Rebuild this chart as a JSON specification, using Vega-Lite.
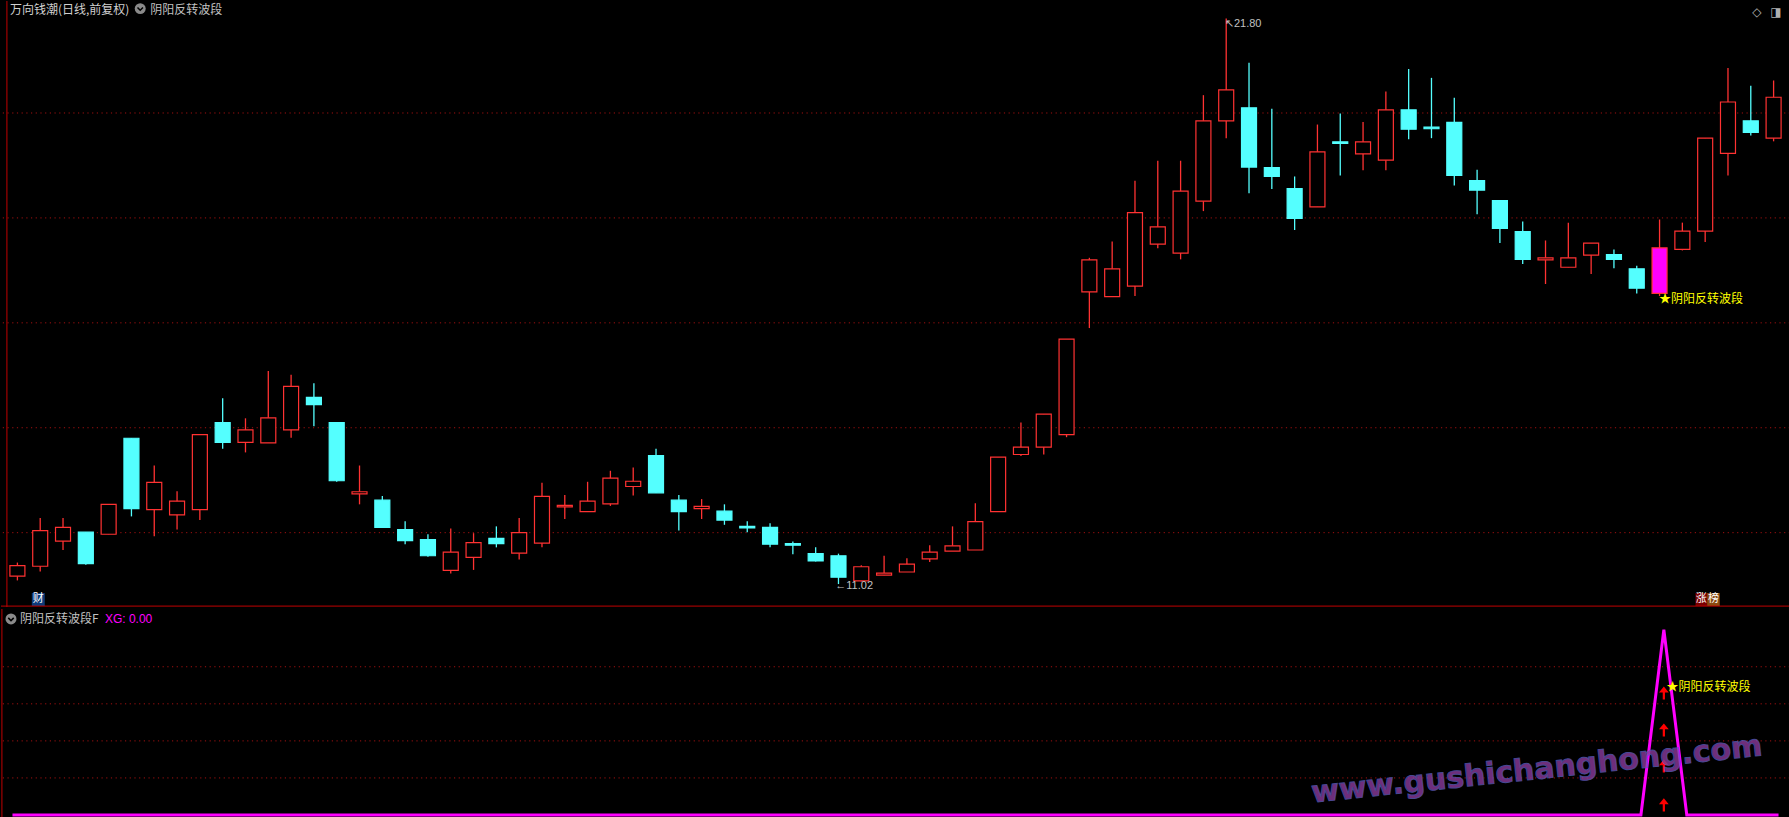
{
  "$schema": "https://vega.github.io/schema/vega-lite/v6.json",
  "background": "#000000",
  "padding": 0,
  "spacing": 0,
  "autosize": {"type": "pad"},
  "config": {"view": {"stroke": null}, "axis": {"disable": true}, "font": "Noto Sans CJK SC"},
  "resolve": {"scale": {"x": "independent", "y": "independent"}},
  "datasets": {
    "k": [
      {"i":0,"o":11.17,"h":11.43,"l":11.09,"c":11.37,"xg":0},
      {"i":1,"o":11.36,"h":12.28,"l":11.26,"c":12.04,"xg":0},
      {"i":2,"o":11.84,"h":12.28,"l":11.67,"c":12.10,"xg":0},
      {"i":3,"o":12.01,"h":12.01,"l":11.39,"c":11.41,"xg":0},
      {"i":4,"o":11.97,"h":12.54,"l":11.97,"c":12.54,"xg":0},
      {"i":5,"o":13.80,"h":13.80,"l":12.31,"c":12.46,"xg":0},
      {"i":6,"o":12.44,"h":13.28,"l":11.93,"c":12.96,"xg":0},
      {"i":7,"o":12.34,"h":12.79,"l":12.06,"c":12.60,"xg":0},
      {"i":8,"o":12.44,"h":13.87,"l":12.24,"c":13.87,"xg":0},
      {"i":9,"o":14.10,"h":14.56,"l":13.60,"c":13.72,"xg":0},
      {"i":10,"o":13.72,"h":14.18,"l":13.53,"c":13.96,"xg":0},
      {"i":11,"o":13.71,"h":15.08,"l":13.71,"c":14.19,"xg":0},
      {"i":12,"o":13.96,"h":15.01,"l":13.81,"c":14.79,"xg":0},
      {"i":13,"o":14.58,"h":14.85,"l":14.03,"c":14.44,"xg":0},
      {"i":14,"o":14.10,"h":14.10,"l":12.97,"c":12.99,"xg":0},
      {"i":15,"o":12.74,"h":13.28,"l":12.54,"c":12.78,"xg":0},
      {"i":16,"o":12.62,"h":12.70,"l":12.09,"c":12.10,"xg":0},
      {"i":17,"o":12.06,"h":12.22,"l":11.78,"c":11.85,"xg":0},
      {"i":18,"o":11.87,"h":11.97,"l":11.54,"c":11.56,"xg":0},
      {"i":19,"o":11.28,"h":12.08,"l":11.22,"c":11.63,"xg":0},
      {"i":20,"o":11.53,"h":11.99,"l":11.29,"c":11.81,"xg":0},
      {"i":21,"o":11.89,"h":12.12,"l":11.72,"c":11.79,"xg":0},
      {"i":22,"o":11.61,"h":12.28,"l":11.49,"c":12.00,"xg":0},
      {"i":23,"o":11.80,"h":12.95,"l":11.72,"c":12.69,"xg":0},
      {"i":24,"o":12.49,"h":12.72,"l":12.26,"c":12.52,"xg":0},
      {"i":25,"o":12.40,"h":12.97,"l":12.40,"c":12.60,"xg":0},
      {"i":26,"o":12.55,"h":13.18,"l":12.51,"c":13.04,"xg":0},
      {"i":27,"o":12.88,"h":13.24,"l":12.71,"c":12.98,"xg":0},
      {"i":28,"o":13.47,"h":13.60,"l":12.76,"c":12.76,"xg":0},
      {"i":29,"o":12.62,"h":12.72,"l":12.04,"c":12.40,"xg":0},
      {"i":30,"o":12.46,"h":12.64,"l":12.26,"c":12.50,"xg":0},
      {"i":31,"o":12.41,"h":12.54,"l":12.15,"c":12.24,"xg":0},
      {"i":32,"o":12.12,"h":12.22,"l":12.01,"c":12.09,"xg":0},
      {"i":33,"o":12.10,"h":12.18,"l":11.72,"c":11.78,"xg":0},
      {"i":34,"o":11.79,"h":11.83,"l":11.59,"c":11.76,"xg":0},
      {"i":35,"o":11.60,"h":11.72,"l":11.45,"c":11.46,"xg":0},
      {"i":36,"o":11.56,"h":11.60,"l":11.02,"c":11.15,"xg":0},
      {"i":37,"o":11.08,"h":11.38,"l":11.07,"c":11.35,"xg":0},
      {"i":38,"o":11.19,"h":11.56,"l":11.19,"c":11.23,"xg":0},
      {"i":39,"o":11.25,"h":11.51,"l":11.25,"c":11.40,"xg":0},
      {"i":40,"o":11.50,"h":11.76,"l":11.44,"c":11.63,"xg":0},
      {"i":41,"o":11.65,"h":12.12,"l":11.65,"c":11.75,"xg":0},
      {"i":42,"o":11.67,"h":12.56,"l":11.67,"c":12.21,"xg":0},
      {"i":43,"o":12.40,"h":13.44,"l":12.40,"c":13.44,"xg":0},
      {"i":44,"o":13.49,"h":14.10,"l":13.46,"c":13.63,"xg":0},
      {"i":45,"o":13.63,"h":14.26,"l":13.49,"c":14.26,"xg":0},
      {"i":46,"o":13.87,"h":15.69,"l":13.82,"c":15.69,"xg":0},
      {"i":47,"o":16.59,"h":17.24,"l":15.90,"c":17.20,"xg":0},
      {"i":48,"o":16.50,"h":17.55,"l":16.50,"c":17.03,"xg":0},
      {"i":49,"o":16.70,"h":18.71,"l":16.51,"c":18.10,"xg":0},
      {"i":50,"o":17.50,"h":19.09,"l":17.42,"c":17.83,"xg":0},
      {"i":51,"o":17.33,"h":19.09,"l":17.21,"c":18.51,"xg":0},
      {"i":52,"o":18.32,"h":20.34,"l":18.13,"c":19.85,"xg":0},
      {"i":53,"o":19.85,"h":21.80,"l":19.52,"c":20.44,"xg":0},
      {"i":54,"o":20.10,"h":20.96,"l":18.47,"c":18.97,"xg":0},
      {"i":55,"o":18.96,"h":20.08,"l":18.55,"c":18.79,"xg":0},
      {"i":56,"o":18.56,"h":18.79,"l":17.77,"c":17.99,"xg":0},
      {"i":57,"o":18.21,"h":19.78,"l":18.21,"c":19.26,"xg":0},
      {"i":58,"o":19.45,"h":19.99,"l":18.81,"c":19.42,"xg":0},
      {"i":59,"o":19.22,"h":19.83,"l":18.91,"c":19.45,"xg":0},
      {"i":60,"o":19.10,"h":20.41,"l":18.91,"c":20.06,"xg":0},
      {"i":61,"o":20.06,"h":20.84,"l":19.50,"c":19.69,"xg":0},
      {"i":62,"o":19.73,"h":20.67,"l":19.52,"c":19.70,"xg":0},
      {"i":63,"o":19.82,"h":20.29,"l":18.62,"c":18.81,"xg":0},
      {"i":64,"o":18.71,"h":18.92,"l":18.07,"c":18.53,"xg":0},
      {"i":65,"o":18.33,"h":18.33,"l":17.52,"c":17.80,"xg":0},
      {"i":66,"o":17.74,"h":17.93,"l":17.12,"c":17.21,"xg":0},
      {"i":67,"o":17.20,"h":17.57,"l":16.74,"c":17.24,"xg":0},
      {"i":68,"o":17.06,"h":17.91,"l":17.06,"c":17.24,"xg":0},
      {"i":69,"o":17.29,"h":17.52,"l":16.93,"c":17.52,"xg":0},
      {"i":70,"o":17.30,"h":17.40,"l":17.04,"c":17.21,"xg":0},
      {"i":71,"o":17.03,"h":17.09,"l":16.56,"c":16.66,"xg":0},
      {"i":72,"o":16.56,"h":17.97,"l":16.51,"c":17.43,"xg":1},
      {"i":73,"o":17.40,"h":17.91,"l":17.38,"c":17.75,"xg":0},
      {"i":74,"o":17.75,"h":19.52,"l":17.54,"c":19.52,"xg":0},
      {"i":75,"o":19.23,"h":20.86,"l":18.81,"c":20.21,"xg":0},
      {"i":76,"o":19.85,"h":20.52,"l":19.57,"c":19.63,"xg":0},
      {"i":77,"o":19.52,"h":20.62,"l":19.46,"c":20.30,"xg":0}
    ]
  },
  "vconcat": [
    {
      "width": 1789,
      "height": 606,
      "layer": [
        {
          "data": {"values": [{"g":12},{"g":14},{"g":16},{"g":18},{"g":20}]},
          "mark": {"type": "rule", "color": "#a01010", "strokeWidth": 1, "strokeDash": [1.2, 3.5]},
          "encoding": {
            "y": {"field": "g", "type": "quantitative", "scale": {"domain": [10.583, 22.135], "nice": false, "zero": false}}
          }
        },
        {
          "data": {"name": "k"},
          "mark": {"type": "rule", "strokeWidth": 1.3},
          "encoding": {
            "x": {"field": "i", "type": "quantitative", "scale": {"domain": [-0.5, 77.5], "nice": false, "zero": false}},
            "y": {"field": "l", "type": "quantitative"},
            "y2": {"field": "h"},
            "color": {"condition": {"test": "datum.c >= datum.o", "value": "#ff3232"}, "value": "#54ffff"}
          }
        },
        {
          "data": {"name": "k"},
          "mark": {"type": "bar", "width": 15, "strokeWidth": 1.2},
          "encoding": {
            "x": {"field": "i", "type": "quantitative"},
            "y": {"field": "o", "type": "quantitative"},
            "y2": {"field": "c"},
            "fill": {"condition": [{"test": "datum.xg == 1", "value": "#ff00ff"}, {"test": "datum.c >= datum.o", "value": "#000000"}], "value": "#54ffff"},
            "stroke": {"condition": {"test": "datum.c >= datum.o", "value": "#ff3232"}, "value": "#54ffff"}
          }
        },
        {
          "data": {"values": [{"t": "万向钱潮(日线,前复权)"}]},
          "mark": {"type": "text", "align": "left", "baseline": "middle", "fontSize": 12, "color": "#d0d0d0"},
          "encoding": {"x": {"datum": -0.326}, "y": {"datum": 21.97}, "text": {"field": "t"}}
        },
        {
          "data": {"values": [{}]},
          "mark": {"type": "point", "shape": "circle", "filled": true, "size": 120, "color": "#8a8a8a", "opacity": 1},
          "encoding": {"x": {"datum": 5.385}, "y": {"datum": 21.99}}
        },
        {
          "data": {"values": [{}]},
          "mark": {"type": "point", "shape": "M-0.5,-0.2L0,0.3L0.5,-0.2", "filled": false, "size": 120, "stroke": "#000000", "strokeWidth": 1.5, "opacity": 1},
          "encoding": {"x": {"datum": 5.385}, "y": {"datum": 21.99}}
        },
        {
          "data": {"values": [{"t": "阴阳反转波段"}]},
          "mark": {"type": "text", "align": "left", "baseline": "middle", "fontSize": 12, "color": "#c0c0c0"},
          "encoding": {"x": {"datum": 5.82}, "y": {"datum": 21.97}, "text": {"field": "t"}}
        },
        {
          "data": {"values": [{"t": "↖21.80"}]},
          "mark": {"type": "text", "align": "left", "baseline": "middle", "fontSize": 11, "font": "Liberation Sans", "color": "#c0c0c0"},
          "encoding": {"x": {"datum": 52.944}, "y": {"datum": 21.7}, "text": {"field": "t"}}
        },
        {
          "data": {"values": [{"t": "←11.02"}]},
          "mark": {"type": "text", "align": "left", "baseline": "middle", "fontSize": 11, "font": "Liberation Sans", "color": "#c0c0c0"},
          "encoding": {"x": {"datum": 35.86}, "y": {"datum": 10.984}, "text": {"field": "t"}}
        },
        {
          "data": {"values": [{"t": "★阴阳反转波段"}]},
          "mark": {"type": "text", "align": "left", "baseline": "middle", "fontSize": 12, "color": "#ffff00"},
          "encoding": {"x": {"datum": 71.98}, "y": {"datum": 16.455}, "text": {"field": "t"}}
        },
        {
          "data": {"values": [{}]},
          "mark": {"type": "rect", "color": "#0d3b7a"},
          "encoding": {"x": {"datum": 0.633}, "x2": {"datum": 1.2}, "y": {"datum": 10.85}, "y2": {"datum": 10.602}}
        },
        {
          "data": {"values": [{}]},
          "mark": {"type": "rect", "color": "#7a0000"},
          "encoding": {"x": {"datum": 73.576}, "x2": {"datum": 74.086}, "y": {"datum": 10.85}, "y2": {"datum": 10.602}}
        },
        {
          "data": {"values": [{}]},
          "mark": {"type": "rect", "color": "#8a4a10"},
          "encoding": {"x": {"datum": 74.086}, "x2": {"datum": 74.64}, "y": {"datum": 10.85}, "y2": {"datum": 10.602}}
        },
        {
          "data": {"values": [{"t": "财"}]},
          "mark": {"type": "text", "align": "center", "baseline": "middle", "fontSize": 11, "color": "#ffffff"},
          "encoding": {"x": {"datum": 0.917}, "y": {"datum": 10.726}, "text": {"field": "t"}}
        },
        {
          "data": {"values": [{"t": "涨"}]},
          "mark": {"type": "text", "align": "center", "baseline": "middle", "fontSize": 11, "color": "#ffffff"},
          "encoding": {"x": {"datum": 73.83}, "y": {"datum": 10.726}, "text": {"field": "t"}}
        },
        {
          "data": {"values": [{"t": "榜"}]},
          "mark": {"type": "text", "align": "center", "baseline": "middle", "fontSize": 11, "color": "#ffffff"},
          "encoding": {"x": {"datum": 74.36}, "y": {"datum": 10.726}, "text": {"field": "t"}}
        },
        {
          "data": {"values": [{"t": "◇"}]},
          "mark": {"type": "text", "align": "center", "baseline": "middle", "fontSize": 12, "font": "DejaVu Sans", "color": "#b0b0b0"},
          "encoding": {"x": {"datum": 76.27}, "y": {"datum": 21.93}, "text": {"field": "t"}}
        },
        {
          "data": {"values": [{"t": "◨"}]},
          "mark": {"type": "text", "align": "center", "baseline": "middle", "fontSize": 12, "font": "DejaVu Sans", "color": "#b0b0b0"},
          "encoding": {"x": {"datum": 77.1}, "y": {"datum": 21.93}, "text": {"field": "t"}}
        },
        {
          "data": {"values": [{}]},
          "mark": {"type": "rule", "color": "#c00000", "strokeWidth": 1},
          "encoding": {"y": {"datum": 10.6}}
        },
        {
          "data": {"values": [{}]},
          "mark": {"type": "rule", "color": "#c00000", "strokeWidth": 1},
          "encoding": {"x": {"datum": -0.46}}
        }
      ]
    },
    {
      "width": 1789,
      "height": 211,
      "layer": [
        {
          "data": {"values": [{"g":0.2},{"g":0.4},{"g":0.6},{"g":0.8}]},
          "mark": {"type": "rule", "color": "#a01010", "strokeWidth": 1, "strokeDash": [1.2, 3.5]},
          "encoding": {
            "y": {"field": "g", "type": "quantitative", "scale": {"domain": [-0.027, 1.1117], "nice": false, "zero": false}}
          }
        },
        {
          "data": {"values": [{"v":0.658},{"v":0.459},{"v":0.2645},{"v":0.0547}]},
          "mark": {"type": "point", "shape": "M0,-1L0.75,-0.1L0.17,-0.1L0.17,1L-0.17,1L-0.17,-0.1L-0.75,-0.1Z", "filled": true, "size": 170, "color": "#ff0000", "opacity": 1},
          "encoding": {
            "x": {"datum": 72, "scale": {"domain": [-0.5, 77.5], "nice": false, "zero": false}},
            "y": {"field": "v", "type": "quantitative"}
          }
        },
        {
          "data": {"name": "k"},
          "mark": {"type": "line", "color": "#ff00ff", "strokeWidth": 3},
          "encoding": {
            "x": {"field": "i", "type": "quantitative"},
            "y": {"field": "xg", "type": "quantitative"}
          }
        },
        {
          "data": {"values": [{"t": "★阴阳反转波段"}]},
          "mark": {"type": "text", "align": "left", "baseline": "middle", "fontSize": 12, "color": "#ffff00"},
          "encoding": {"x": {"datum": 72.12}, "y": {"datum": 0.691}, "text": {"field": "t"}}
        },
        {
          "data": {"values": [{}]},
          "mark": {"type": "point", "shape": "circle", "filled": true, "size": 120, "color": "#8a8a8a", "opacity": 1},
          "encoding": {"x": {"datum": -0.064}, "y": {"datum": 1.058}}
        },
        {
          "data": {"values": [{}]},
          "mark": {"type": "point", "shape": "M-0.5,-0.2L0,0.3L0.5,-0.2", "filled": false, "size": 120, "stroke": "#000000", "strokeWidth": 1.5, "opacity": 1},
          "encoding": {"x": {"datum": -0.064}, "y": {"datum": 1.058}}
        },
        {
          "data": {"values": [{"t": "阴阳反转波段F"}]},
          "mark": {"type": "text", "align": "left", "baseline": "middle", "fontSize": 12, "color": "#c0c0c0"},
          "encoding": {"x": {"datum": 0.328}, "y": {"datum": 1.058}, "text": {"field": "t"}}
        },
        {
          "data": {"values": [{"t": "XG: 0.00"}]},
          "mark": {"type": "text", "align": "left", "baseline": "middle", "fontSize": 12, "font": "Liberation Sans", "color": "#ff00ff"},
          "encoding": {"x": {"datum": 4.03}, "y": {"datum": 1.058}, "text": {"field": "t"}}
        },
        {
          "data": {"values": [{"t": "www.gushichanghong.com"}]},
          "mark": {"type": "text", "align": "center", "baseline": "middle", "fontSize": 30, "font": "DejaVu Sans", "fontWeight": "bold", "angle": -6, "fill": "#8a3a9a", "stroke": "#5a5ab8", "strokeWidth": 1, "opacity": 0.8},
          "encoding": {"x": {"datum": 66.46}, "y": {"datum": 0.243}, "text": {"field": "t"}}
        },
        {
          "data": {"values": [{}]},
          "mark": {"type": "rule", "color": "#c00000", "strokeWidth": 1},
          "encoding": {"y": {"datum": -0.022}}
        },
        {
          "data": {"values": [{}]},
          "mark": {"type": "rule", "color": "#c00000", "strokeWidth": 1},
          "encoding": {"x": {"datum": -0.46}}
        }
      ]
    }
  ]
}
